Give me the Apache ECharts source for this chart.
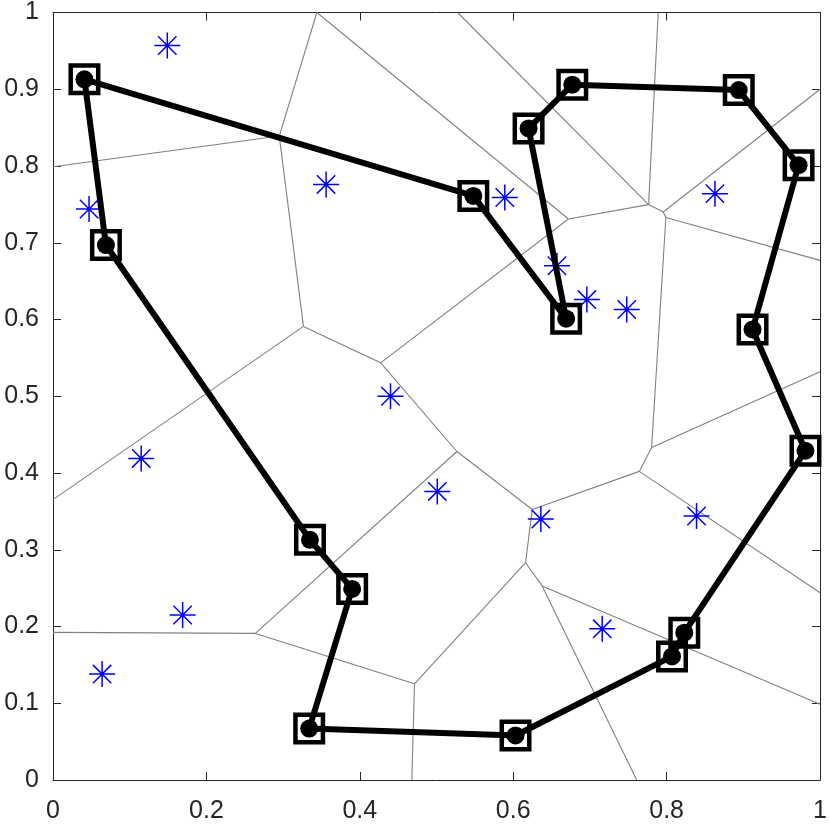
<!DOCTYPE html>
<html>
<head>
<meta charset="utf-8">
<script src="https://cdn.jsdelivr.net/npm/echarts@6/dist/echarts.min.js"></script>
<style>
html,body{margin:0;padding:0;background:#fff;overflow:hidden;}
#c{width:830px;height:827px;}
</style>
</head>
<body>
<div id="c"></div>
<script>
// Tour (closed path) vertices, in visiting order
const tourX = [0.041, 0.069, 0.335, 0.390, 0.334, 0.603, 0.807, 0.823, 0.981, 0.912, 0.972, 0.894, 0.677, 0.620, 0.669, 0.548];
const tourY = [0.913, 0.697, 0.313, 0.249, 0.067, 0.058, 0.161, 0.192, 0.429, 0.587, 0.801, 0.899, 0.906, 0.849, 0.601, 0.761];

// Blue asterisk points
const siteX = [0.149, 0.047, 0.356, 0.589, 0.657, 0.696, 0.748, 0.863, 0.440, 0.115, 0.501, 0.636, 0.839, 0.169, 0.064, 0.716];
const siteY = [0.957, 0.744, 0.776, 0.759, 0.670, 0.626, 0.613, 0.764, 0.500, 0.419, 0.376, 0.340, 0.344, 0.215, 0.138, 0.197];

// Voronoi edges: [x1, y1, x2, y2]
const voronoiEdges = [
  [0.000, 0.799, 0.295, 0.839],
  [0.295, 0.839, 0.344, 1.000],
  [0.295, 0.839, 0.3265, 0.591],
  [0.3265, 0.591, 0.000, 0.3653],
  [0.3265, 0.591, 0.4272, 0.5435],
  [0.4272, 0.5435, 0.672, 0.731],
  [0.4272, 0.5435, 0.5266, 0.428],
  [0.344, 1.000, 0.672, 0.731],
  [0.5275, 1.000, 0.7765, 0.7497],
  [0.789, 1.000, 0.7765, 0.7497],
  [0.672, 0.731, 0.7765, 0.7497],
  [0.7765, 0.7497, 0.7956, 0.740],
  [0.7956, 0.740, 1.000, 0.900],
  [0.7956, 0.740, 0.799, 0.733],
  [0.799, 0.733, 1.000, 0.677],
  [0.799, 0.733, 0.7804, 0.4332],
  [0.7804, 0.4332, 1.000, 0.5318],
  [0.7804, 0.4332, 0.7644, 0.4021],
  [0.7644, 0.4021, 0.6248, 0.3524],
  [0.7644, 0.4021, 1.000, 0.244],
  [0.6248, 0.3524, 0.5266, 0.428],
  [0.6248, 0.3524, 0.6161, 0.2831],
  [0.5266, 0.428, 0.2638, 0.1910],
  [0.6161, 0.2831, 0.4713, 0.1254],
  [0.6161, 0.2831, 0.6377, 0.2529],
  [0.6377, 0.2529, 1.000, 0.0986],
  [0.6377, 0.2529, 0.761, 0.000],
  [0.4713, 0.1254, 0.4678, 0.000],
  [0.4713, 0.1254, 0.2638, 0.1910],
  [0.2638, 0.1910, 0.000, 0.1924]
];

const xTickValues = [0, 0.2, 0.4, 0.6, 0.8, 1];
const yTickValues = [0, 0.1, 0.2, 0.3, 0.4, 0.5, 0.6, 0.7, 0.8, 0.9, 1];

const tourPts = tourX.map((x, i) => [x, tourY[i]]);
const tourClosed = tourPts.concat([tourPts[0]]);
const sitePts = siteX.map((x, i) => [x, siteY[i]]);
const edgeData = voronoiEdges.map(e => ({coords: [[e[0], e[1]], [e[2], e[3]]]}));

const axisColor = '#262626';
const font = "'Liberation Sans', Arial, Helvetica, sans-serif";
function axisBase(extra) {
  return Object.assign({
    type: 'value', min: 0, max: 1,
    axisLine: {show: true, onZero: false, lineStyle: {color: axisColor, width: 1}},
    axisTick: {show: true, inside: true, length: 8, lineStyle: {color: axisColor, width: 1}},
    splitLine: {show: false},
    axisLabel: {show: true, color: axisColor, fontFamily: font, fontSize: 25}
  }, extra);
}

const asterisk = 'path://M10,0L10,20M0,10L20,10M2.93,2.93L17.07,17.07M2.93,17.07L17.07,2.93';

const chart = echarts.init(document.getElementById('c'), null, {renderer: 'canvas'});
chart.setOption({
  animation: false,
  backgroundColor: '#fff',
  grid: {left: 53, right: 5.5, top: 9, bottom: 47, containLabel: false},
  xAxis: [
    axisBase({position: 'bottom', interval: 0.2, axisLabel: {show: true, color: axisColor, fontFamily: font, fontSize: 25, margin: 19}}),
    axisBase({position: 'top', interval: 0.2, axisLabel: {show: false}})
  ],
  yAxis: [
    axisBase({position: 'left', interval: 0.1, axisLabel: {show: true, color: axisColor, fontFamily: font, fontSize: 25, margin: 14}}),
    axisBase({position: 'right', interval: 0.1, axisLabel: {show: false}})
  ],
  series: [
    {
      type: 'lines', coordinateSystem: 'cartesian2d', xAxisIndex: 0, yAxisIndex: 0,
      data: edgeData, silent: true, z: 1,
      lineStyle: {color: '#808080', width: 1.1, opacity: 1}
    },
    {
      type: 'scatter', xAxisIndex: 0, yAxisIndex: 0, data: sitePts, z: 2,
      symbol: asterisk, symbolSize: 26, silent: true,
      itemStyle: {color: 'rgba(0,0,0,0)', borderColor: '#0000ff', borderWidth: 1.5, opacity: 1}
    },
    {
      type: 'line', xAxisIndex: 0, yAxisIndex: 0, data: tourClosed, z: 3,
      symbol: 'none', lineStyle: {color: '#000', width: 6, opacity: 1}, silent: true
    },
    {
      type: 'scatter', xAxisIndex: 0, yAxisIndex: 0, data: tourPts, z: 4,
      symbol: 'circle', symbolSize: 18, silent: true, itemStyle: {color: '#000', opacity: 1}
    },
    {
      type: 'scatter', xAxisIndex: 0, yAxisIndex: 0, data: tourPts, z: 5,
      symbol: 'rect', symbolSize: 27.5, silent: true,
      itemStyle: {color: 'rgba(0,0,0,0)', borderColor: '#000', borderWidth: 4.5, opacity: 1}
    }
  ]
});
</script>
</body>
</html>
